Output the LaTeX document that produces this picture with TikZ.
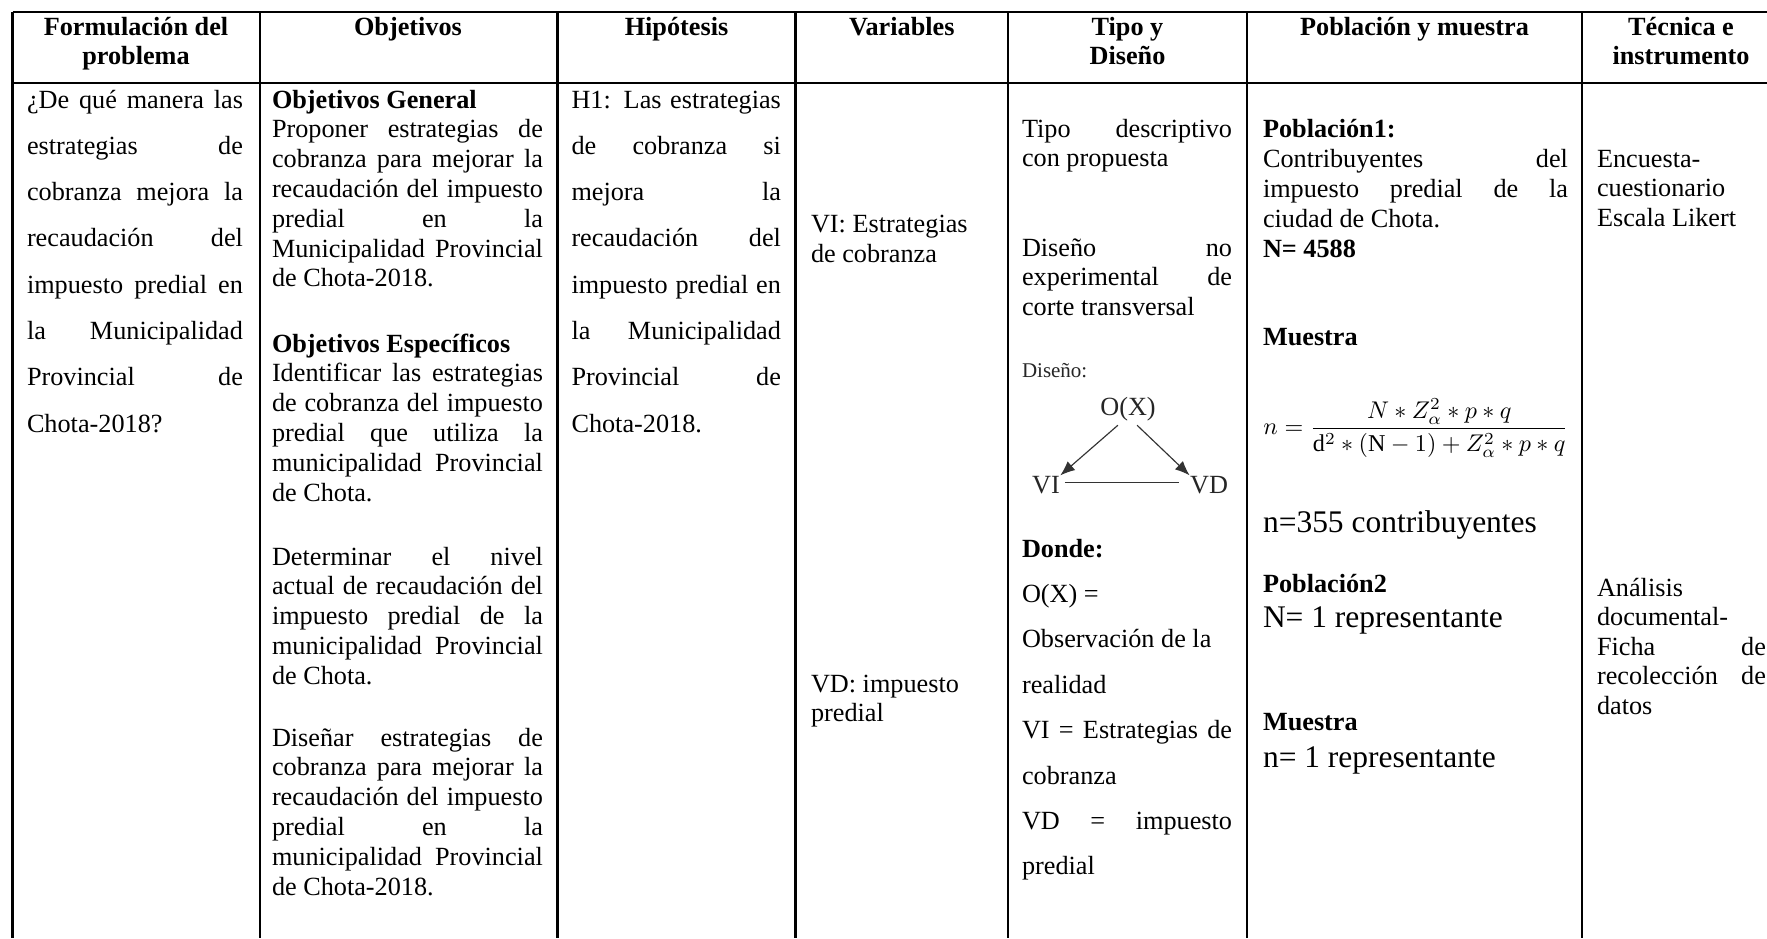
\documentclass[tikz,border=0pt]{standalone}
\usepackage{graphicx}
\usepackage{fontspec}
\setmainfont{Liberation Serif}
\usetikzlibrary{arrows.meta}
\newlength\cw
\newcommand\J[1]{\makebox[\cw][s]{#1}}
\newcommand\celllines[5]{\foreach \ltxt [count=\cnt from 0] in {#5} {\node[txt] (#1\cnt) at (#2,{#3+\cnt*#4}) {\ltxt};}}
\begin{document}
\begin{tikzpicture}[x=0.4765pt,y=-0.4765pt,
  txt/.style={anchor=base west,inner sep=0pt,outer sep=0pt,font=\fontsize{12.5pt}{14pt}\selectfont},
  hd/.style={anchor=base,inner sep=0pt,font=\fontsize{12.5pt}{14pt}\selectfont\bfseries},
  big/.style={txt,font=\fontsize{15pt}{17pt}\selectfont},
  rule/.style={line width=1pt,draw=black},
  arr/.style={-{Latex[length=7pt,width=5.5pt]},line width=0.55pt,draw=black!80},
  dg/.style={anchor=base,inner sep=0pt,text=black!85,font=\fontsize{12.5pt}{14pt}\selectfont}]
\useasboundingbox (0,0) rectangle (1767,938);
\fill[white] (0,0) rectangle (1767,938);
% grid
\draw[rule] (12.5,12) -- (1767,12);
\draw[rule] (12.5,83) -- (1767,83);
\foreach \xx in {12.5,260,557.5,795.5,1008,1247,1582} \draw[rule] (\xx,12) -- (\xx,938);
% headers
\node[hd] (hA1) at (136,35) {Formulación del};
\node[hd] (hA2) at (136,64) {problema};
\node[hd] (hB) at (408,35) {Objetivos};
\node[hd] (hC) at (676.5,35) {Hipótesis};
\node[hd] (hD) at (901.75,35) {Variables};
\node[hd] (hE1) at (1127.5,35) {Tipo y};
\node[hd] (hE2) at (1127.5,64) {Diseño};
\node[hd] (hF) at (1414.5,35) {Población y muestra};
\node[hd] (hG1) at (1681,35) {Técnica e};
\node[hd] (hG2) at (1681,64) {instrumento};
% column 1
\setlength\cw{102.9pt}
\celllines{a}{27}{108}{46.3}{{\J{¿De qué manera las}},{\J{estrategias de}},{\J{cobranza mejora la}},{\J{recaudación del}},{\J{impuesto predial en}},{\J{la Municipalidad}},{\J{Provincial de}},{Chota-2018?}}
% column 2
\setlength\cw{129.1pt}
\celllines{b}{272}{108}{29.8}{{\textbf{Objetivos General}},{\J{Proponer estrategias de}},{\J{cobranza para mejorar la}},{\J{recaudación del impuesto}},{\J{predial en la}},{\J{Municipalidad Provincial}},{de Chota-2018.}}
\celllines{c}{272}{352}{29.8}{{\textbf{Objetivos Específicos}},{\J{Identificar las estrategias}},{\J{de cobranza del impuesto}},{\J{predial que utiliza la}},{\J{municipalidad Provincial}},{de Chota.}}
\celllines{d}{272}{565}{29.8}{{\J{Determinar el nivel}},{\J{actual de recaudación del}},{\J{impuesto predial de la}},{\J{municipalidad Provincial}},{de Chota.}}
\celllines{e}{272}{746}{29.8}{{\J{Diseñar estrategias de}},{\J{cobranza para mejorar la}},{\J{recaudación del impuesto}},{\J{predial en la}},{\J{municipalidad Provincial}},{de Chota-2018.}}
% column 3
\setlength\cw{99.8pt}
\celllines{f}{571.5}{108}{46.3}{{\J{H1: Las estrategias}},{\J{de cobranza si}},{\J{mejora la}},{\J{recaudación del}},{\J{impuesto predial en}},{\J{la Municipalidad}},{\J{Provincial de}},{Chota-2018.}}
% column 4
\node[txt] (g1) at (811,232) {VI: Estrategias};
\node[txt] (g2) at (811,262) {de cobranza};
\node[txt] (g3) at (811,692) {VD: impuesto};
\node[txt] (g4) at (811,721) {predial};
% column 5
\setlength\cw{100.1pt}
\celllines{h}{1022}{137}{29.8}{{\J{Tipo descriptivo}},{con propuesta}}
\celllines{i}{1022}{256}{29.5}{{\J{Diseño no}},{\J{experimental de}},{corte transversal}}
\node[txt,font=\fontsize{10pt}{12pt}\selectfont,text=black!85] (dis) at (1022,377) {Diseño:};
\node[dg] (ox) at (1128,415) {O(X)};
\node[dg] (vi) at (1046,493) {VI};
\node[dg] (vd) at (1209,493) {VD};
\draw[arr] ([xshift=-4.8pt,yshift=-2pt]ox.south) -- (vi.north east);
\draw[arr] ([xshift=4.3pt,yshift=-2pt]ox.south) -- (vd.north west);
\draw[line width=0.55pt,draw=black!80] ([xshift=2.2pt,yshift=1.2pt]vi.east) -- ([xshift=-5.2pt,yshift=1.2pt]vd.west);
\celllines{j}{1022}{557}{45.4}{{\textbf{Donde:}},{O(X) =},{Observación de la},{realidad},{\J{VI = Estrategias de}},{cobranza},{\J{VD = impuesto}},{predial}}
% column 6
\setlength\cw{145.3pt}
\node[txt] (k0) at (1263,137) {\textbf{Población1:}};
\node[txt] (k1) at (1263,167) {\J{Contribuyentes del}};
\node[txt] (k2) at (1263,197) {\J{impuesto predial de la}};
\node[txt] (k3) at (1263,227) {ciudad de Chota.};
\node[txt] (k4) at (1263,257) {\textbf{N= 4588}};
\node[txt] (k5) at (1263,345) {\textbf{Muestra}};
\node[anchor=west,inner sep=0pt] (fml) at (1263,428) {\resizebox{145.3pt}{!}{$\displaystyle n=\frac{N\ast Z_{\alpha}^{2}\ast p\ast q}{\mathrm{d}^{2}\ast(\mathrm{N}-1)+Z_{\alpha}^{2}\ast p\ast q}$}};
\node[big] (k6) at (1263,532) {n=355 contribuyentes};
\node[txt] (k7) at (1263,592) {\textbf{Población2}};
\node[big] (k8) at (1263,627) {N= 1 representante};
\node[txt] (k9) at (1263,730) {\textbf{Muestra}};
\node[big] (k10) at (1263,767) {n= 1 representante};
% column 7
\setlength\cw{80.5pt}
\celllines{m}{1597}{167}{29.8}{{Encuesta-},{cuestionario},{Escala Likert}}
\celllines{o}{1597}{596}{29.5}{{Análisis},{documental-},{\J{Ficha de}},{\J{recolección de}},{datos}}
\end{tikzpicture}
\end{document}
